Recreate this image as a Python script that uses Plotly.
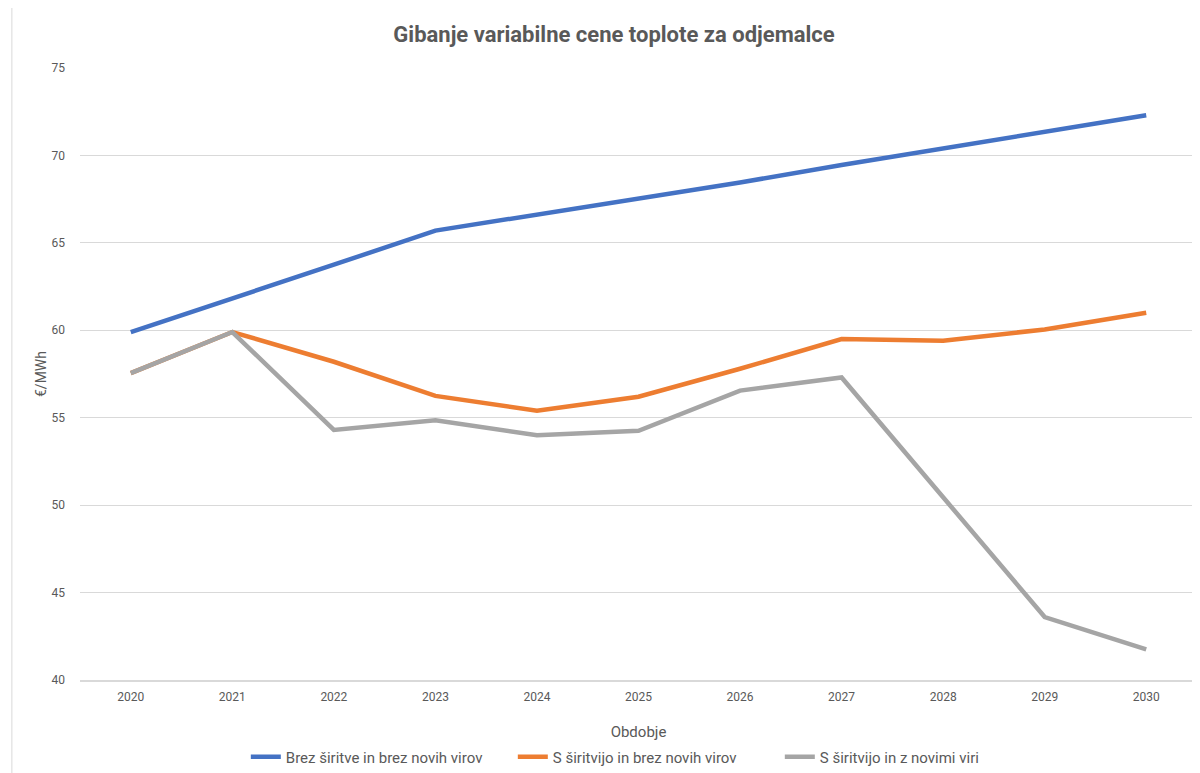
import plotly.graph_objects as go

years = ["2020", "2021", "2022", "2023", "2024", "2025", "2026", "2027", "2028", "2029", "2030"]
brez_siritve = [59.9, 61.8, 63.75, 65.7, 66.6, 67.55, 68.45, 69.45, 70.4, 71.4, 72.3]
s_siritvijo_brez = [57.55, 59.9, 58.2, 56.25, 55.4, 56.2, 57.8, 59.5, 59.4, 60.05, 61.0]
s_siritvijo_novi = [57.55, 59.9, 54.3, 54.85, 54.0, 54.25, 56.55, 57.3, 50.45, 43.6, 41.75]

names = ["Brez širitve in brez novih virov", "S širitvijo in brez novih virov", "S širitvijo in z novimi viri"]
colors = ["#4472C4", "#ED7D31", "#A5A5A5"]

fig = go.Figure()
for name, vals, col in zip(names, [brez_siritve, s_siritvijo_brez, s_siritvijo_novi], colors):
    fig.add_trace(go.Scatter(x=years, y=vals, name=name, mode="lines",
                             line=dict(color=col, width=4.5)))

font_main = "Roboto, 'DejaVu Sans Condensed', sans-serif"
fig.update_layout(
    width=1200, height=773,
    margin=dict(l=72, r=11, t=60, b=101, autoexpand=False),
    paper_bgcolor="white", plot_bgcolor="white",
    font=dict(family=font_main, color="#595959", size=11),
    title=dict(text="<b>Gibanje variabilne cene toplote za odjemalce</b>",
               x=0.505, xanchor="center", y=0.966, yanchor="middle",
               font=dict(size=22, color="#595959", family=font_main)),
    xaxis=dict(type="category", range=[-0.5, 10.5], showgrid=False,
               showline=True, linecolor="#D9D9D9", linewidth=1.5, automargin=False,
               ticks="", tickfont=dict(size=12, color="#595959"), ticklabelstandoff=5,
               title=dict(text="Obdobje", font=dict(size=15, color="#595959"), standoff=33)),
    yaxis=dict(range=[40, 75], dtick=5, showgrid=True, gridcolor="#D9D9D9", gridwidth=1,
               zeroline=False, showline=False, ticks="", ticklabelstandoff=14, automargin=False,
               tickfont=dict(size=12, color="#595959"),
               title=dict(text="€/MWh", font=dict(size=14, color="#595959"), standoff=1)),
    legend=dict(orientation="h", x=0.507, xanchor="center", yref="container", y=0.031,
                yanchor="middle", font=dict(size=15, color="#595959"), itemwidth=30,
                traceorder="normal", entrywidth=222, entrywidthmode="pixels"),
    showlegend=True,
)
fig.add_shape(type="rect", xref="paper", yref="paper", x0=-0.061, x1=1.02, y0=-0.2, y1=1.13,
              line=dict(color="#D9D9D9", width=1), layer="below")
fig.write_html("out.html")
